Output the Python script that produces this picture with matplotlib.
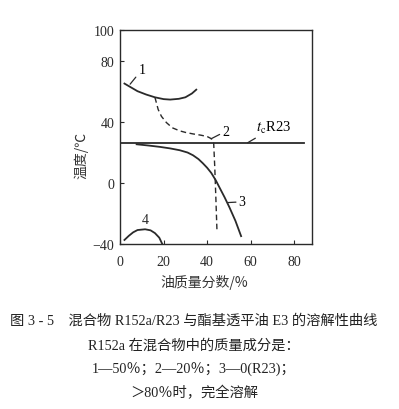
import matplotlib
matplotlib.use("Agg")
import matplotlib.pyplot as plt

plt.rcParams["mathtext.fontset"] = "stix"

# curve 1: R152a 50% (solid upper branch)
c1_x = [2, 5, 8, 12, 16, 20, 23, 27, 30, 33, 35]
c1_t = [65, 62.5, 60, 57.8, 56, 54.8, 54.5, 55, 56, 58.5, 61]

# curve 2: R152a 20% (dashed)
c2_x = [16, 17.5, 19, 21.3, 24, 27.4, 30, 33.5, 37, 40, 42, 43, 43.5, 44, 44.5]
c2_t = [56, 48, 43.5, 39.4, 36, 34, 33, 32, 31.2, 30.3, 28.8, 26, 10, -10, -31]

# curve 3: R23 only
c3_x = [7.6, 13, 18.3, 23, 27.4, 31, 33.5, 36, 38, 40, 41.9, 44, 45.7, 48, 50.2, 53, 55.6]
c3_t = [25.2, 24.4, 23.5, 22.5, 21.3, 19.8, 18, 15.5, 12.8, 9.8, 6.4, 1.5, -3.2, -9.5, -16, -25, -35]

# curve 4: lower closed region
c4_x = [2, 4, 6, 8, 11.5, 14, 16, 18, 19.5]
c4_t = [-37.5, -34.8, -32.5, -31, -30.5, -31.2, -33, -36, -40.5]

# critical temperature of R23
tc_r23 = 26.2
tc_x = [0, 84.5]

xticks = [0, 20, 40, 60, 80]
yticks = [-40, 0, 40, 80, 100]
ytick_labels = ["\u221240", "0", "40", "80", "100"]

caption = [
    "图 3 - 5    混合物 R152a/R23 与酯基透平油 E3 的溶解性曲线",
    "R152a 在混合物中的质量成分是：",
    "1—50％；2—20％；3—0(R23)；",
    "＞80％时，完全溶解",
]

MIX = ["Liberation Serif", "Noto Sans CJK SC"]
CJK = ["Noto Sans CJK SC", "Liberation Serif"]

fig = plt.figure(figsize=(3.99, 4.10), dpi=100)
ax = fig.add_axes([0.301, 0.403, 0.480, 0.521])

lc = "#2a2a2a"
ax.plot(c1_x, c1_t, color=lc, lw=1.3)
ax.plot(c2_x, c2_t, color=lc, lw=1.0, ls=(0, (4, 2.5)))
ax.plot(c3_x, c3_t, color=lc, lw=1.3)
ax.plot(c4_x, c4_t, color=lc, lw=1.3)
ax.plot(tc_x, [tc_r23, tc_r23], color=lc, lw=1.3)

ax.set_xlim(0, 88)
ax.set_ylim(-40, 100)
ax.set_xticks(xticks)
ax.set_yticks(yticks)
ax.set_yticklabels(ytick_labels)
ax.tick_params(direction="in", length=3, width=0.8, labelsize=10, colors=lc)
ax.tick_params(axis="x", pad=8)
ax.tick_params(axis="y", pad=4)
for lab in ax.get_xticklabels() + ax.get_yticklabels():
    lab.set_family("Liberation Serif")
for s in ax.spines.values():
    s.set_linewidth(1.0)
    s.set_color(lc)

# curve labels with short leader lines
lead = dict(arrowstyle="-", color=lc, lw=0.9, shrinkA=0, shrinkB=0)
ax.annotate("1", xy=(4.6, 64.6), xytext=(8.5, 70), fontsize=10, family="Liberation Serif",
            ha="left", va="bottom", arrowprops=lead)
ax.annotate("2", xy=(41.8, 28.8), xytext=(47, 29.5), fontsize=10, family="Liberation Serif",
            ha="left", va="bottom", arrowprops=lead)
ax.annotate("3", xy=(49.5, -13), xytext=(54.5, -12.5), fontsize=10, family="Liberation Serif",
            ha="left", va="center", arrowprops=lead)
ax.annotate("$t_{\\mathrm{c}}$R23", xy=(58.6, tc_r23), xytext=(62.5, 31), fontsize=10.5,
            family="Liberation Serif", ha="left", va="bottom", arrowprops=lead)
ax.text(11.4, -28.5, "4", fontsize=10, family="Liberation Serif", ha="center", va="bottom", color=lc)

fig.text(81 / 399, 1 - 155 / 410, "温度/℃", rotation=90, fontsize=10, family=CJK,
         ha="center", va="center", color="#333333")
fig.text(204 / 399, 1 - 283 / 410, "油质量分数/%", fontsize=10, family=CJK,
         ha="center", va="center", color="#333333")

cap_y = [321, 346, 370, 393]
for line, y in zip(caption, cap_y):
    fig.text(194 / 399, 1 - y / 410, line, fontsize=10.3, family=MIX,
             ha="center", va="center", color="#222222")

fig.savefig("out.png", dpi=100)
